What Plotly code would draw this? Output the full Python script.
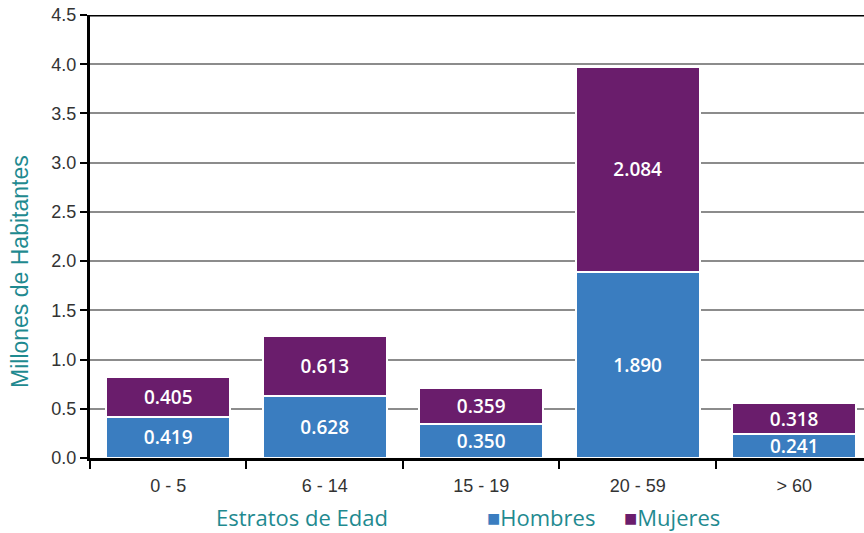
import plotly.graph_objects as go

categories = ["0 - 5", "6 - 14", "15 - 19", "20 - 59", "> 60"]
hombres = [0.419, 0.628, 0.350, 1.890, 0.241]
mujeres = [0.405, 0.613, 0.359, 2.084, 0.318]
y_ticks = [0.0, 0.5, 1.0, 1.5, 2.0, 2.5, 3.0, 3.5, 4.0, 4.5]

BLUE = "#3a7dc0"
PURPLE = "#6a1d6c"
TEAL = "#1f8a90"
HUMANIST = "Open Sans, Lato, sans-serif"
GROTESK = "Liberation Sans, Arial, sans-serif"
LABEL_FONT = dict(family=HUMANIST, size=19, color="white", weight=600)

fig = go.Figure()
for name, vals, color in [("Hombres", hombres, BLUE), ("Mujeres", mujeres, PURPLE)]:
    fig.add_trace(go.Bar(
        x=categories, y=vals, name=name,
        marker=dict(color=color, line=dict(color="white", width=2)),
        text=[f"{v:.3f}" for v in vals], textposition="inside",
        insidetextanchor="middle", textfont=LABEL_FONT, textangle=0,
        constraintext="none",
    ))

fig.update_layout(
    barmode="stack",
    bargap=0.21,
    width=864, height=533,
    margin=dict(l=90, r=0, t=15, b=75),
    plot_bgcolor="white", paper_bgcolor="white",
    showlegend=False,
    font=dict(family=GROTESK, size=16, color="#333333"),
)

fig.update_xaxes(
    range=[-0.5, 4.446],
    showline=True, linecolor="black", linewidth=3,
    ticks="outside", tickson="boundaries", ticklen=8, tickwidth=2, tickcolor="black",
    ticklabelstandoff=9,
    tickfont=dict(family=GROTESK, size=18, color="#333333"),
    showgrid=False, zeroline=False,
)
fig.update_yaxes(
    range=[0, 4.5], tickvals=y_ticks, ticktext=[f"{v:.1f}" for v in y_ticks],
    showline=True, linecolor="black", linewidth=3,
    ticks="outside", ticklen=7, tickwidth=2, tickcolor="black",
    showgrid=True, gridcolor="#8c8c8c", gridwidth=1.5,
    zeroline=False,
    tickfont=dict(family=GROTESK, size=18, color="#333333"),
)

# Heavy rule along the top edge of the plot area
fig.add_shape(type="line", xref="paper", yref="y", x0=0, x1=1, y0=4.5, y1=4.5,
              line=dict(color="black", width=3))

ROW_Y = -(517 - 458) / 443

# Vertical axis title
fig.add_annotation(text="Millones de Habitantes", xref="paper", yref="paper",
                   x=-(90 - 20) / 774, y=(458 - 272) / 443, xanchor="center", yanchor="middle",
                   textangle=-90, showarrow=False,
                   font=dict(family=GROTESK, size=23, color=TEAL))

# Horizontal axis title
fig.add_annotation(text="Estratos de Edad", xref="paper", yref="paper",
                   x=(302 - 90) / 774, y=ROW_Y, xanchor="center", yanchor="middle",
                   showarrow=False,
                   font=dict(family=HUMANIST, size=22, color=TEAL))

# Series key with coloured squares
legend_items = [("Hombres", BLUE, 485), ("Mujeres", PURPLE, 622)]
for name, color, px in legend_items:
    fig.add_annotation(
        text=f"<span style='color:{color}'>■</span>{name}",
        xref="paper", yref="paper", x=(px - 90) / 774, y=ROW_Y,
        xanchor="left", yanchor="middle", showarrow=False,
        font=dict(family=HUMANIST, size=22, color=TEAL))

fig.write_html("out.html")
